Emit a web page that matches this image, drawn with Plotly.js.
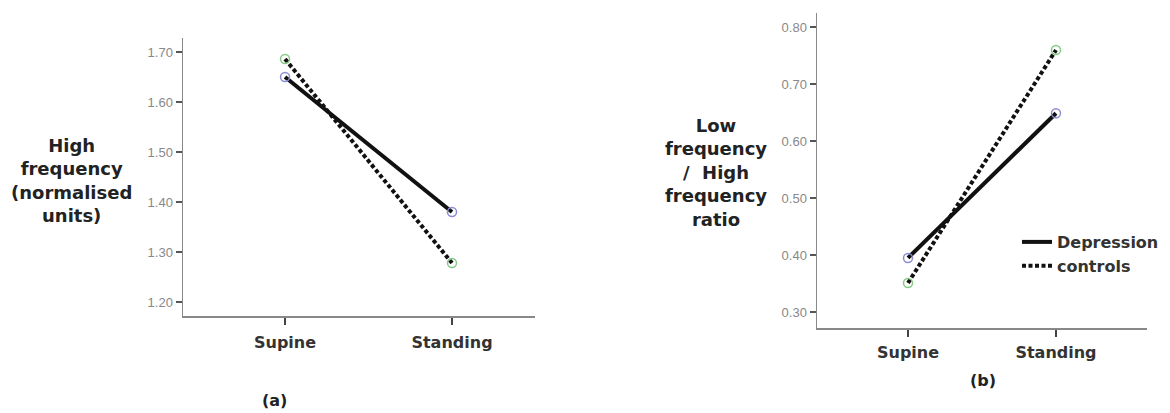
<!DOCTYPE html>
<html>
<head>
<meta charset="utf-8">
<script src="https://cdn.plot.ly/plotly-3.0.1.min.js"></script>
<style>html,body{margin:0;padding:0;background:#fff;}#chart{width:1170px;height:413px;}</style>
</head>
<body>
<div id="chart"></div>
<script>
// ---- data ----
var categories = ['Supine', 'Standing'];
var hfDepression = [1.65, 1.38];
var hfControls = [1.686, 1.278];
var ratioDepression = [0.395, 0.649];
var ratioControls = [0.351, 0.760];
var hfTicks = [1.20, 1.30, 1.40, 1.50, 1.60, 1.70];
var ratioTicks = [0.30, 0.40, 0.50, 0.60, 0.70, 0.80];
var seriesNames = ['Depression', 'controls'];

var W = 1170, H = 413;
function px(x) { return x / W; }
function py(y) { return 1 - y / H; }

var lineColor = '#111';
var depMarker = '#8c8cd4';
var conMarker = '#86c886';
var boldFam = 'DejaVu Sans, Arial, sans-serif';
var dotDash = '4px,2.5px';

function lineTrace(x, y, xa, ya, name, dash, show) {
  return {x: x, y: y, xaxis: xa, yaxis: ya, type: 'scatter', mode: 'lines',
    name: name, showlegend: show, hoverinfo: 'skip',
    line: {color: lineColor, width: 4, dash: dash}};
}
function markerTrace(x, y, xa, ya, color) {
  return {x: x, y: y, xaxis: xa, yaxis: ya, type: 'scatter', mode: 'markers',
    showlegend: false, hoverinfo: 'skip',
    marker: {symbol: 'circle-open', size: 9, color: color, line: {color: color, width: 1.5}}};
}

var data = [
  lineTrace(categories, hfControls, 'x', 'y', seriesNames[1], dotDash, false),
  lineTrace(categories, hfDepression, 'x', 'y', seriesNames[0], 'solid', false),
  markerTrace(categories, hfDepression, 'x', 'y', depMarker),
  markerTrace(categories, hfControls, 'x', 'y', conMarker),
  lineTrace(categories, ratioDepression, 'x2', 'y2', seriesNames[0], 'solid', true),
  lineTrace(categories, ratioControls, 'x2', 'y2', seriesNames[1], dotDash, true),
  markerTrace(categories, ratioDepression, 'x2', 'y2', depMarker),
  markerTrace(categories, ratioControls, 'x2', 'y2', conMarker)
];

var tickFont = {family: 'Arial, Liberation Sans, sans-serif', size: 13, color: '#888'};
var catFont = {family: boldFam, size: 16, color: '#333', weight: 'bold'};

function xAxis(domain, range, anchor, standoff) {
  return {domain: domain, range: range, anchor: anchor, type: 'category',
    showline: true, linecolor: '#888', linewidth: 1.5, showgrid: false, zeroline: false,
    ticks: 'outside', ticklen: 7, tickwidth: 2, tickcolor: '#444',
    ticklabelstandoff: standoff,
    tickfont: catFont, fixedrange: true};
}
function yAxis(domain, range, anchor, ticks) {
  return {domain: domain, range: range, anchor: anchor,
    showline: true, linecolor: '#888', linewidth: 1.5, showgrid: false, zeroline: false,
    tickmode: 'array', tickvals: ticks, ticktext: ticks.map(function (v) { return v.toFixed(2); }),
    ticks: 'outside', ticklen: 6, tickwidth: 1.5, tickcolor: '#555',
    tickfont: tickFont, fixedrange: true};
}

var titleFont = {family: boldFam, size: 18, color: '#222'};
var labelFont = {family: boldFam, size: 16, color: '#222'};

var layout = {
  width: W, height: H,
  margin: {l: 0, r: 0, t: 0, b: 0},
  paper_bgcolor: '#fff', plot_bgcolor: '#fff',
  showlegend: true,
  legend: {x: px(1017), y: py(225), xanchor: 'left', yanchor: 'top',
    bgcolor: 'rgba(0,0,0,0)', borderwidth: 0, tracegroupgap: 0,
    font: {family: boldFam, size: 16, color: '#333', weight: 'bold'},
    itemwidth: 30},
  xaxis: xAxis([px(183), px(535)], [-0.611, 1.497], 'y', 4),
  yaxis: yAxis([py(316), py(38)], [1.172, 1.728], 'x', hfTicks),
  xaxis2: xAxis([px(817), px(1147)], [-0.615, 1.615], 'y2', 2),
  yaxis2: yAxis([py(328), py(13)], [0.272, 0.825], 'x2', ratioTicks),
  annotations: [
    {xref: 'paper', yref: 'paper', x: px(71), y: py(180), xanchor: 'center', yanchor: 'middle',
      showarrow: false, align: 'center', font: titleFont,
      text: '<b>High<br>frequency<br>(normalised<br>units)</b>'},
    {xref: 'paper', yref: 'paper', x: px(716), y: py(173), xanchor: 'center', yanchor: 'middle',
      showarrow: false, align: 'center', font: titleFont,
      text: '<b>Low<br>frequency<br>/  High<br>frequency<br>ratio</b>'},
    {xref: 'paper', yref: 'paper', x: px(274), y: py(400), xanchor: 'center', yanchor: 'middle',
      showarrow: false, font: labelFont, text: '<b>(a)</b>'},
    {xref: 'paper', yref: 'paper', x: px(983), y: py(380), xanchor: 'center', yanchor: 'middle',
      showarrow: false, font: labelFont, text: '<b>(b)</b>'}
  ]
};

Plotly.newPlot('chart', data, layout, {displayModeBar: false, staticPlot: true});
</script>
</body>
</html>
